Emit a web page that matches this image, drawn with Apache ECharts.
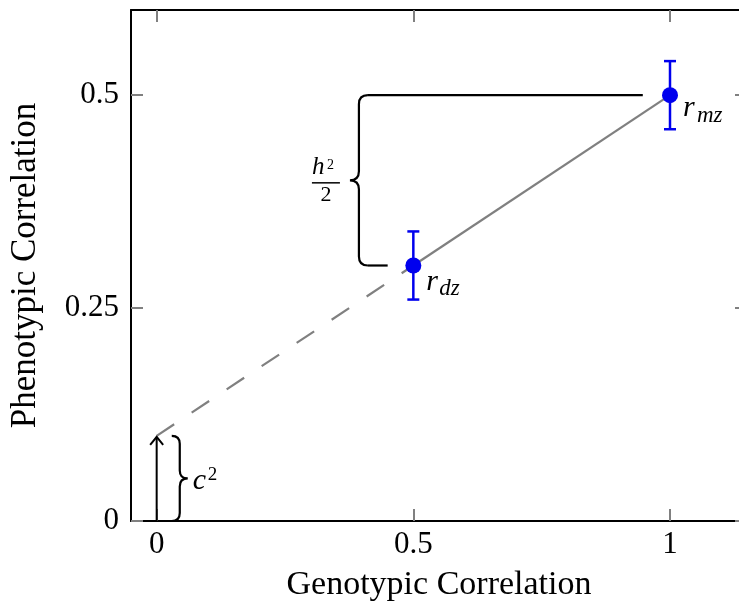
<!DOCTYPE html>
<html>
<head>
<meta charset="utf-8">
<script src="https://cdn.jsdelivr.net/npm/echarts@6/dist/echarts.min.js"></script>
<style>
  html, body { margin: 0; padding: 0; background: #fff; }
  #chart { width: 739px; height: 606px; }
</style>
</head>
<body>
<div id="chart"></div>
<script>
// Twin correlations: dizygotic (genotypic r = 0.5) and monozygotic (r = 1)
const genotypicCorr = [0.5, 1.0];
const phenotypicCorr = [0.3, 0.5];
const errLower = [0.26, 0.46];
const errUpper = [0.34, 0.54];
const twinSubscripts = ['dz', 'mz'];
// shared-environment intercept (c^2) where the fitted line meets r_g = 0
const sharedEnvIntercept = 0.1;
const xTickValues = [0, 0.5, 1];
const yTickValues = [0, 0.25, 0.5];

const SERIF = '"Liberation Serif", "Times New Roman", serif';
const BLUE = '#0000ee';
const GRAY = '#808080';
const BLACK = '#000';

const points = genotypicCorr.map((g, i) => [g, phenotypicCorr[i]]);
const dashedFit = [[0, sharedEnvIntercept], points[0]];
const errorBars = genotypicCorr.map((g, i) => [g, errLower[i], errUpper[i]]);

// curly braces: spine x (data), tip direction (+1 right, -1 left), corner radius in px
const braces = [
  { x: 0.045, y0: 0, y1: sharedEnvIntercept, dir: 1, r: 8 },
  { x: 0.394, y0: phenotypicCorr[0], y1: phenotypicCorr[1], dir: -1, r: 9, leadTop: 0.947, leadBottom: 0.45 }
];

// label offsets (px) from each point: italic r, then subscript
const labelOffsets = [
  { r: [13, 27], sub: [26, 31] },
  { r: [13, 23], sub: [27, 29] }
];

// text placed by its alphabetic baseline
function txt(x, baseline, s, size, italic, align) {
  return {
    type: 'text',
    x: x,
    y: baseline - 0.3375 * size,
    style: {
      text: s,
      fontFamily: SERIF,
      fontSize: size,
      fontStyle: italic ? 'italic' : 'normal',
      fill: BLACK,
      align: align || 'left',
      verticalAlign: 'middle'
    }
  };
}

function line(x1, y1, x2, y2, color, width) {
  return {
    type: 'line',
    shape: { x1: x1, y1: y1, x2: x2, y2: y2 },
    style: { stroke: color, lineWidth: width, lineCap: 'butt' }
  };
}

const chart = echarts.init(document.getElementById('chart'), null, { renderer: 'canvas' });

function axisCommon(min, max, ticks) {
  return {
    type: 'value',
    min: min,
    max: max,
    axisLine: { show: true, onZero: false, lineStyle: { color: BLACK, width: 2 } },
    axisTick: { show: true, inside: true, length: 12, customValues: ticks, lineStyle: { color: GRAY, width: 2 } },
    splitLine: { show: false }
  };
}

const option = {
  animation: false,
  backgroundColor: '#fff',
  grid: { left: 131, top: 10, width: 616, height: 511, containLabel: false, outerBoundsMode: 'none' },
  xAxis: [
    Object.assign(axisCommon(-0.05, 1.15, xTickValues), {
      position: 'bottom',
      axisLabel: { customValues: xTickValues, fontFamily: SERIF, fontSize: 31, color: BLACK, margin: 8 },
      name: 'Genotypic Correlation',
      nameLocation: 'middle',
      nameGap: 47,
      nameTextStyle: { fontFamily: SERIF, fontSize: 34, color: BLACK }
    }),
    Object.assign(axisCommon(-0.05, 1.15, xTickValues), {
      position: 'top',
      axisLabel: { show: false }
    })
  ],
  yAxis: [
    Object.assign(axisCommon(0, 0.6, yTickValues), {
      position: 'left',
      axisLabel: { customValues: yTickValues, fontFamily: SERIF, fontSize: 31, color: BLACK, margin: 12 },
      name: 'Phenotypic Correlation',
      nameLocation: 'middle',
      nameGap: 88,
      nameTextStyle: { fontFamily: SERIF, fontSize: 35, color: BLACK }
    }),
    Object.assign(axisCommon(0, 0.6, yTickValues), {
      position: 'right',
      axisLabel: { show: false }
    })
  ],
  series: [
    {
      name: 'extrapolation',
      type: 'line',
      data: dashedFit,
      symbol: 'none',
      z: 2,
      lineStyle: { color: GRAY, width: 2.2, type: [21, 21] }
    },
    {
      name: 'fit',
      type: 'line',
      data: points,
      symbol: 'none',
      z: 2,
      lineStyle: { color: GRAY, width: 2.2 }
    },
    {
      name: 'error bars',
      type: 'custom',
      z: 3,
      data: errorBars,
      renderItem: function (params, api) {
        const lo = api.coord([api.value(0), api.value(1)]);
        const hi = api.coord([api.value(0), api.value(2)]);
        const h = 6;
        return {
          type: 'group',
          children: [
            line(lo[0], lo[1], hi[0], hi[1], BLUE, 2.5),
            line(hi[0] - h, hi[1], hi[0] + h, hi[1], BLUE, 2.5),
            line(lo[0] - h, lo[1], lo[0] + h, lo[1], BLUE, 2.5)
          ]
        };
      }
    },
    {
      name: 'twin pairs',
      type: 'scatter',
      z: 4,
      data: points,
      symbol: 'circle',
      symbolSize: 16,
      itemStyle: { color: BLUE, opacity: 1 }
    },
    {
      name: 'pair labels',
      type: 'custom',
      z: 5,
      data: points,
      renderItem: function (params, api) {
        const p = api.coord([api.value(0), api.value(1)]);
        const o = labelOffsets[params.dataIndex];
        return {
          type: 'group',
          children: [
            txt(p[0] + o.r[0], p[1] + o.r[1], 'r', 30, true),
            txt(p[0] + o.sub[0], p[1] + o.sub[1], twinSubscripts[params.dataIndex], 23, true)
          ]
        };
      }
    },
    {
      name: 'c2 arrow',
      type: 'custom',
      z: 5,
      data: [[0, 0, sharedEnvIntercept]],
      renderItem: function (params, api) {
        const a = api.coord([api.value(0), api.value(1)]);
        const b = api.coord([api.value(0), api.value(2)]);
        return {
          type: 'group',
          children: [
            line(a[0], a[1], b[0], b[1] + 1, BLACK, 2),
            {
              type: 'polyline',
              shape: { points: [[b[0] - 6.5, b[1] + 9], [b[0], b[1] + 1], [b[0] + 6.5, b[1] + 9]] },
              style: { stroke: BLACK, lineWidth: 2, fill: null, lineJoin: 'miter' }
            }
          ]
        };
      }
    },
    {
      name: 'braces',
      type: 'custom',
      z: 5,
      data: braces.map(b => [b.x, b.y0, b.y1]),
      renderItem: function (params, api) {
        const b = braces[params.dataIndex];
        const top = api.coord([b.x, b.y1]);
        const bot = api.coord([b.x, b.y0]);
        const xv = top[0], yT = top[1], yB = bot[1], yM = (yT + yB) / 2;
        const r = b.r, d = b.dir;
        const path =
          'M' + (xv - d * r) + ',' + yT +
          ' Q' + xv + ',' + yT + ' ' + xv + ',' + (yT + r) +
          ' L' + xv + ',' + (yM - r) +
          ' Q' + xv + ',' + yM + ' ' + (xv + d * r) + ',' + yM +
          ' Q' + xv + ',' + yM + ' ' + xv + ',' + (yM + r) +
          ' L' + xv + ',' + (yB - r) +
          ' Q' + xv + ',' + yB + ' ' + (xv - d * r) + ',' + yB;
        const children = [{
          type: 'path',
          shape: { pathData: path },
          style: { stroke: BLACK, lineWidth: 2.2, fill: null }
        }];
        const tipX = xv + d * r;
        if (b.leadTop !== undefined) {
          children.push(line(xv - d * r, yT, api.coord([b.leadTop, b.y1])[0], yT, BLACK, 2.2));
          children.push(line(xv - d * r, yB, api.coord([b.leadBottom, b.y0])[0], yB, BLACK, 2.2));
        }
        if (d > 0) {
          // c^2
          children.push(txt(tipX + 5, yM + 13, 'c', 30, true));
          children.push(txt(tipX + 20, yM + 3, '2', 19, false));
        } else {
          // h^2 / 2
          const cx = tipX - 24;
          children.push(txt(cx - 14, yM - 4, 'h', 25, true));
          children.push(txt(cx + 1, yM - 10, '2', 14, false));
          children.push(line(cx - 14, yM + 2.5, cx + 14, yM + 2.5, BLACK, 1.5));
          children.push(txt(cx, yM + 22, '2', 22, false, 'center'));
        }
        return { type: 'group', children: children };
      }
    }
  ]
};

chart.setOption(option);
</script>
</body>
</html>
